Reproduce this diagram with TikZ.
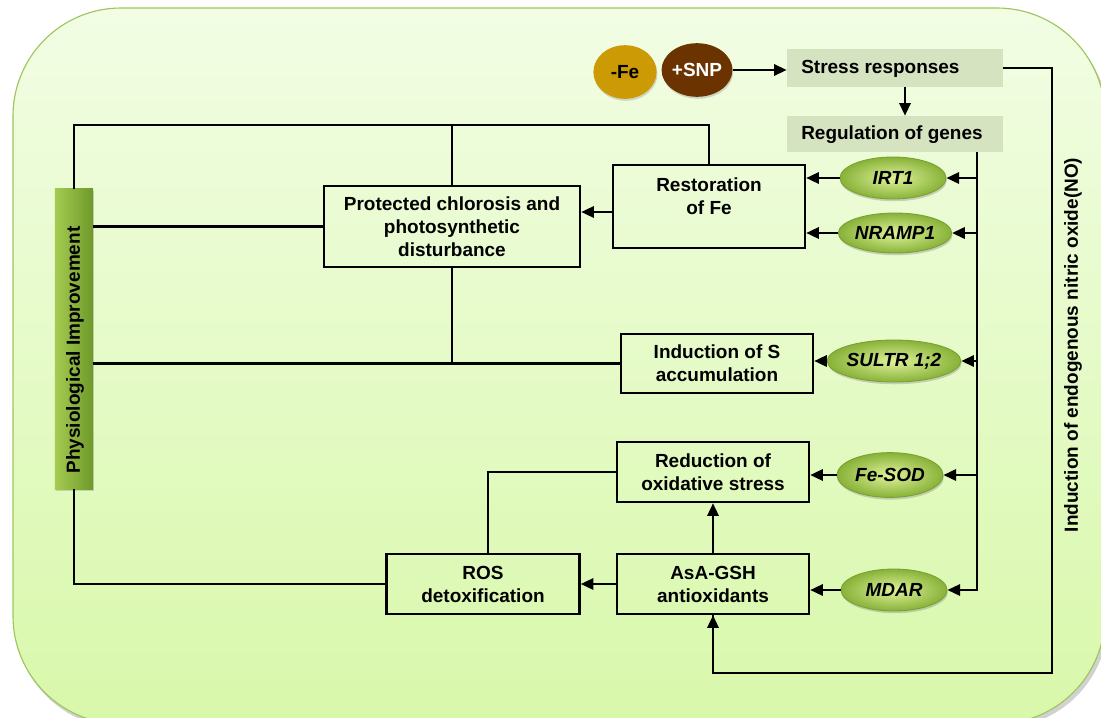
\documentclass[tikz,border=0pt]{standalone}
\usepackage{fontspec}
\setmainfont{Liberation Sans}
\usetikzlibrary{arrows.meta,shapes.geometric,shadows,calc}
\definecolor{bgtop}{HTML}{F2FDE4}
\definecolor{bgbot}{HTML}{D8F8AA}
\definecolor{bgedge}{HTML}{9CC65C}
\definecolor{barleft}{HTML}{A5CB50}
\definecolor{barright}{HTML}{6E992A}
\definecolor{genein}{HTML}{DFF29A}
\definecolor{geneout}{HTML}{88B238}
\definecolor{geneedge}{HTML}{7A9F32}
\definecolor{graybox}{HTML}{D6E3C1}
\definecolor{fecol}{HTML}{CC9A04}
\definecolor{snpcol}{HTML}{6A3300}
\begin{document}
\begin{tikzpicture}[x=0.025cm,y=-0.025cm,
  conn/.style={line width=1.7pt,black},
  arr/.style={conn,-{Triangle[length=9pt,width=8pt]}},
  box/.style={draw=black,line width=1.7pt,rectangle,inner sep=0pt},
  lbl/.style={font=\fontsize{13.5}{16.4}\selectfont\bfseries,align=center,inner sep=0pt},
  gene/.style={ellipse,draw=geneedge,line width=0.6pt,inner color=genein,outer color=geneout,
    minimum width=2.65cm,minimum height=1.05cm,inner sep=0pt,
    font=\fontsize{13.5}{16}\selectfont\bfseries\itshape,
    drop shadow={opacity=0.35,shadow xshift=0.6pt,shadow yshift=-1.6pt}},
  gbox/.style={fill=graybox,inner sep=0pt,minimum width=5.4cm},
  ball/.style={ellipse,inner sep=0pt,minimum width=1.58cm,minimum height=1.34cm,
    font=\fontsize{13.5}{16}\selectfont\bfseries,
    drop shadow={opacity=0.3,shadow xshift=0.6pt,shadow yshift=-1.4pt}}
]
\clip (0,0) rectangle (1101,718);
% background
\fill[black,opacity=0.18,rounded corners=2.7cm] (15,12) rectangle (1108,728);
\draw[bgedge,line width=0.8pt,top color=bgtop,bottom color=bgbot,rounded corners=2.7cm] (13,8) rectangle (1105,724);

% top inputs
\node[ball,fill=fecol] (fe) at (625,72) {-Fe};
\node[ball,fill=snpcol,text=white] (snp) at (697,70) {+SNP};
\node[gbox,minimum height=0.95cm] (stress) at (895,68) {};
\node[lbl,anchor=west] (stresst) at (801,69) {Stress responses};
\node[gbox,minimum height=0.9cm] (reg) at (895,134) {};
\node[lbl,anchor=west] (regt) at (801,135) {Regulation of genes};

% boxes
\node[box,minimum width=4.8cm,minimum height=2.075cm] (resto) at (709,206.5) {};
\node[lbl] (restot) at (709,196) {Restoration\\of Fe};
\node[box,minimum width=6.4cm,minimum height=2.025cm,lbl] (prot) at (452,226.5) {Protected chlorosis and\\photosynthetic\\disturbance};
\node[box,minimum width=4.8cm,minimum height=1.475cm,lbl] (inds) at (717,363.5) {Induction of S\\accumulation};
\node[box,minimum width=4.8cm,minimum height=1.5cm,lbl] (redox) at (713,472) {Reduction of\\oxidative stress};
\node[box,minimum width=4.8cm,minimum height=1.5cm,lbl] (asa) at (713,584) {AsA-GSH\\antioxidants};
\node[box,minimum width=4.825cm,minimum height=1.5cm,lbl] (ros) at (483,584) {ROS\\detoxification};

% physiological bar
\node[rectangle,inner sep=0pt,minimum width=0.95cm,minimum height=7.5cm,left color=barleft,right color=barright,
  drop shadow={opacity=0.3,shadow xshift=0.8pt,shadow yshift=-1.4pt}] (bar) at (74,339) {};
\node[lbl,rotate=90] (bart) at (75,350) {Physiological Improvement};

% genes
\node[gene] (irt) at (893,178) {IRT1};
\node[gene,minimum height=1.0cm] (nramp) at (895,233) {NRAMP1};
\node[gene] (sultr) at (894,361) {SULTR 1;2};
\node[gene,minimum height=1.12cm] (fesod) at (890,475) {Fe-SOD};
\node[gene] (mdar) at (894,590) {MDAR};

% NO text
\node[lbl,rotate=90] (no) at (1073,345) {Induction of endogenous nitric oxide(NO)};

% coordinates
\coordinate (rj) at (977,152);
\coordinate (tl) at (75,125);
\coordinate (fb1) at (1052,68);
\coordinate (fb2) at (1052,673);

% connectors
\draw[arr] (snp.east) -- (snp.east -| stress.west);
\draw[arr] ($(stress.south)+(10,0)$) -- ($(reg.north)+(10,0)$);
\draw[conn] (stress.east) -- (fb1) -- (fb2) -| (asa.south);
\draw[arr] (fb2 -| asa.south) -- (asa.south);
\draw[arr] (rj) |- (mdar.east);
\draw[arr] (irt.east -| rj) -- (irt.east);
\draw[arr] (nramp.east -| rj) -- (nramp.east);
\draw[arr] (sultr.east -| rj) -- (sultr.east);
\draw[arr] (fesod.east -| rj) -- (fesod.east);
\draw[arr] (irt.west) -- (irt.west -| resto.east);
\draw[arr] (nramp.west) -- (nramp.west -| resto.east);
\draw[arr] (sultr.west) -- (sultr.west -| inds.east);
\draw[arr] (fesod.west) -- (fesod.west -| redox.east);
\draw[arr] (mdar.west) -- (mdar.west -| asa.east);
\draw[arr] (resto.west |- 0,212) -- (prot.east |- 0,212);
\draw[conn] (bar.north) -- (bar.north |- tl) -- (resto.north |- tl) -- (resto.north);
\draw[conn] (prot.north |- tl) -- (prot.north);
\draw[conn] (bar.east |- prot.west) -- (prot.west);
\draw[conn] (prot.south) -- (prot.south |- inds.west);
\draw[conn] (bar.east |- inds.west) -- (inds.west);
\draw[conn] ($(ros.north)+(5,0)$) |- (redox.west);
\draw[arr] (asa.north) -- (redox.south);
\draw[arr] (asa.west) -- (asa.west -| ros.east);
\draw[conn] (bar.south) |- (ros.west);
\end{tikzpicture}
\end{document}
